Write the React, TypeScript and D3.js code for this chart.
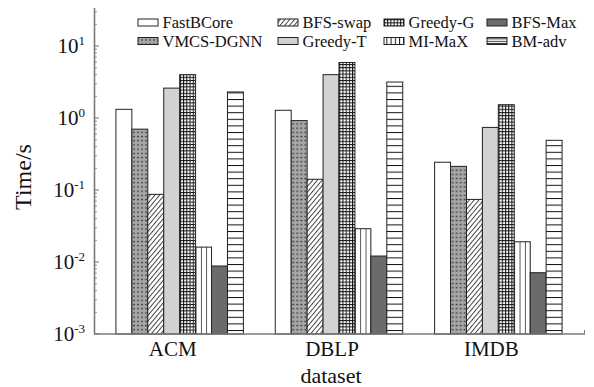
import React from "react";
import * as d3 from "d3";

const categories = ["ACM", "DBLP", "IMDB"];
const seriesNames = ["FastBCore", "VMCS-DGNN", "BFS-swap", "Greedy-T", "Greedy-G", "MI-MaX", "BFS-Max", "BM-adv"];
const FastBCore = [1.32, 1.28, 0.243];
const VMCS_DGNN = [0.70, 0.92, 0.213];
const BFS_swap = [0.087, 0.141, 0.074];
const Greedy_T = [2.6, 4.0, 0.74];
const Greedy_G = [4.0, 5.9, 1.53];
const MI_MaX = [0.0161, 0.029, 0.0191];
const BFS_Max = [0.0088, 0.0121, 0.0071];
const BM_adv = [2.3, 3.16, 0.49];
const seriesValues = [FastBCore, VMCS_DGNN, BFS_swap, Greedy_T, Greedy_G, MI_MaX, BFS_Max, BM_adv];
const yTickExps = [-3, -2, -1, 0, 1];
const legendOrder = ["FastBCore", "BFS-swap", "Greedy-G", "BFS-Max", "VMCS-DGNN", "Greedy-T", "MI-MaX", "BM-adv"];

const W = 594, H = 387;
const FONT = "'Liberation Serif', 'Times New Roman', serif";
const AXIS = "#7a7a7a";

const fills: Record<string, string> = {
  "FastBCore": "#ffffff",
  "VMCS-DGNN": "url(#pDots)",
  "BFS-swap": "url(#pDiag)",
  "Greedy-T": "#d2d2d2",
  "Greedy-G": "url(#pGrid)",
  "MI-MaX": "url(#pVert)",
  "BFS-Max": "#6b6b6b",
  "BM-adv": "url(#pHorz)",
};
const legendFills: Record<string, string> = {
  ...fills,
  "MI-MaX": "url(#pVertL)",
  "BM-adv": "url(#pHorzL)",
};

export default function App() {
  const y = d3.scaleLog().domain([1e-3, Math.pow(10, 1.5)]).range([334, 10]);
  const x0 = d3.scaleBand<string>().domain(categories).range([100, 578]).paddingInner(0.2).paddingOuter(0.1);
  const x1 = d3.scaleBand<string>().domain(seriesNames).range([0, x0.bandwidth()]);
  const yBase = y(1e-3);

  const minorTicks: number[] = [];
  for (let e = -3; e <= 1; e++) {
    for (let m = 2; m <= 9; m++) {
      const v = m * Math.pow(10, e);
      if (y(v) >= 8) minorTicks.push(v);
    }
  }
  const legendCols = [138, 278, 384, 487];
  const legendRows = [22.5, 41];

  return (
    <svg width={W} height={H} style={{ position: "absolute", left: 0, top: 0, background: "#fff" }}>
      <defs>
        <pattern id="pDots" patternUnits="userSpaceOnUse" width={4} height={4.2}>
          <rect width={4} height={4.2} fill="#a6a6a6" />
          <rect x={1.4} y={1.5} width={1.3} height={1.3} fill="#111" />
        </pattern>
        <pattern id="pDiag" patternUnits="userSpaceOnUse" width={3.6} height={3.6} patternTransform="rotate(40)">
          <rect width={3.6} height={3.6} fill="#fff" />
          <line x1={0.5} y1={0} x2={0.5} y2={3.6} stroke="#333" strokeWidth={0.9} />
        </pattern>
        <pattern id="pGrid" patternUnits="userSpaceOnUse" width={3.2} height={3.2}>
          <rect width={3.2} height={3.2} fill="#fff" />
          <line x1={0.5} y1={0} x2={0.5} y2={3.2} stroke="#111" strokeWidth={1} />
          <line x1={0} y1={0.5} x2={3.2} y2={0.5} stroke="#111" strokeWidth={1} />
        </pattern>
        <pattern id="pVert" patternUnits="objectBoundingBox" width={0.3333} height={1}>
          <rect width={40} height={1000} fill="#fff" />
          <line x1={0} y1={0} x2={0} y2={1000} stroke="#111" strokeWidth={1.4} />
        </pattern>
        <pattern id="pVertL" patternUnits="userSpaceOnUse" width={4.2} height={10}>
          <rect width={4.2} height={10} fill="#fff" />
          <line x1={0.5} y1={0} x2={0.5} y2={10} stroke="#111" strokeWidth={1} />
        </pattern>
        <pattern id="pHorz" patternUnits="userSpaceOnUse" width={10} height={6.6}>
          <rect width={10} height={6.6} fill="#fff" />
          <line x1={0} y1={0.5} x2={10} y2={0.5} stroke="#111" strokeWidth={1} />
        </pattern>
        <pattern id="pHorzL" patternUnits="userSpaceOnUse" width={10} height={2.4}>
          <rect width={10} height={2.4} fill="#fff" />
          <line x1={0} y1={0.5} x2={10} y2={0.5} stroke="#111" strokeWidth={0.9} />
        </pattern>
      </defs>

      {/* bars */}
      {categories.map((c, ci) => (
        <g key={c} transform={`translate(${x0(c)},0)`}>
          {seriesNames.map((s, si) => {
            const v = seriesValues[si][ci];
            const top = y(v);
            return (
              <rect key={s} x={x1(s)!} y={top} width={x1.bandwidth()} height={yBase - top}
                fill={fills[s]} stroke="#222" strokeWidth={1} />
            );
          })}
        </g>
      ))}

      {/* axes */}
      <line x1={94.5} y1={8} x2={94.5} y2={yBase} stroke={AXIS} strokeWidth={1.6} />
      <line x1={94} y1={yBase} x2={585} y2={yBase} stroke={AXIS} strokeWidth={1.6} />
      <line x1={584.5} y1={yBase} x2={584.5} y2={yBase - 4} stroke={AXIS} strokeWidth={1} />
      {minorTicks.map((v, i) => (
        <line key={i} x1={94.5} x2={97} y1={y(v)} y2={y(v)} stroke={AXIS} strokeWidth={0.8} />
      ))}
      {yTickExps.map((e) => (
        <g key={e}>
          <line x1={94.5} x2={99} y1={y(Math.pow(10, e))} y2={y(Math.pow(10, e))} stroke={AXIS} strokeWidth={1} />
          <text x={85} y={y(Math.pow(10, e)) + 7} textAnchor="end" fontFamily={FONT} fontSize={21} fill="#111">
            10<tspan fontSize={13} dy={-8}>{String(e)}</tspan>
          </text>
        </g>
      ))}

      {/* x labels */}
      {categories.map((c) => (
        <text key={c} x={x0(c)! + x0.bandwidth() / 2 - 7} y={356} textAnchor="middle" fontFamily={FONT} fontSize={21} fill="#111">{c}</text>
      ))}
      <text x={331} y={383} textAnchor="middle" fontFamily={FONT} fontSize={22} fill="#111">dataset</text>
      <text transform="translate(31,177) rotate(-90)" textAnchor="middle" fontFamily={FONT} fontSize={24} fill="#111">Time/s</text>

      {/* legend */}
      {legendOrder.map((s, i) => {
        const col = i % 4, row = Math.floor(i / 4);
        const lx = legendCols[col], ly = legendRows[row];
        return (
          <g key={s}>
            <rect x={lx} y={ly - 3.5} width={20} height={7} fill={legendFills[s]} stroke="#222" strokeWidth={1} />
            <text x={lx + 24.5} y={ly + 5.5} fontFamily={FONT} fontSize={16.5} fill="#111">{s}</text>
          </g>
        );
      })}
    </svg>
  );
}
